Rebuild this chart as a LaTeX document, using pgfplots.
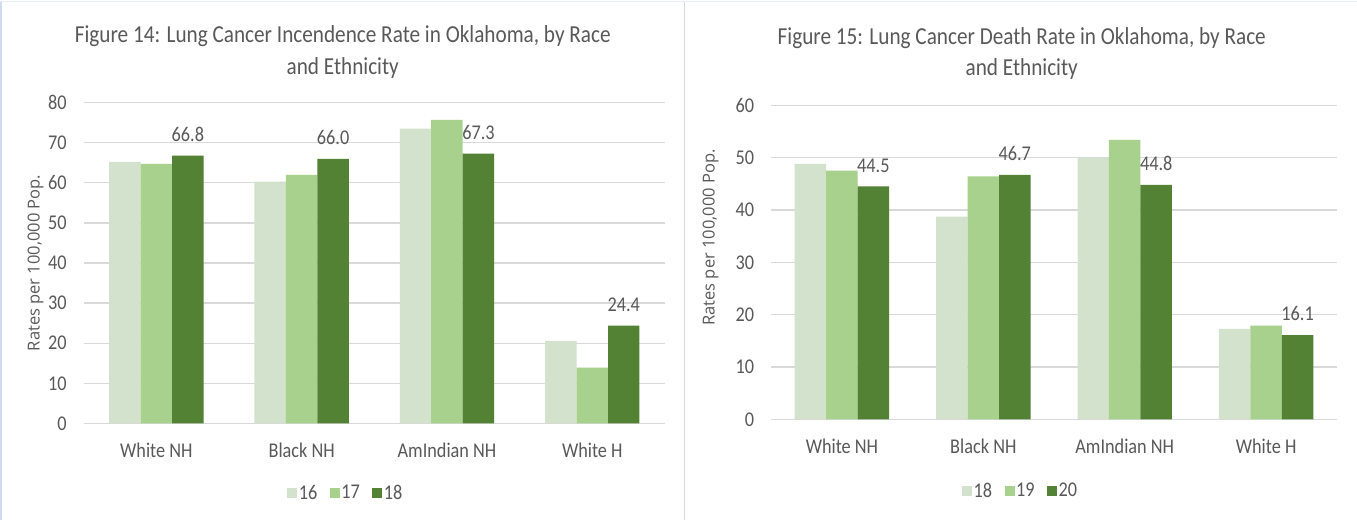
\documentclass[border=0pt]{standalone}
\usepackage{pgfplots}
\pgfplotsset{compat=1.18}
\usepackage{fontspec}
\setmainfont[FakeStretch=0.87]{Carlito}
\newfontfamily\labfont{Open Sans}
\definecolor{cA}{HTML}{D2E2CD}
\definecolor{cB}{HTML}{A8D18D}
\definecolor{cC}{HTML}{548235}
\definecolor{txt}{HTML}{595959}
\definecolor{gridc}{HTML}{D9D9D9}
\definecolor{border}{HTML}{D0DCEE}
\pgfplotsset{
  mybar/.style={
    scale only axis,
    ybar=0pt, bar width=31.5pt,
    xmin=-0.5, xmax=3.5,
    ymin=0,
    xtick={0,1,2,3},
    xticklabels={White NH,Black NH,AmIndian NH,White H},
    axis line style={draw=none},
    major tick length=0pt,
    ymajorgrids, grid style={gridc, line width=1.3pt},
    tick label style={font=\fontsize{21}{24}\selectfont, text=txt, inner sep=0pt},
    /pgf/number format/assume math mode=true,
    yticklabel style={xshift=-17pt},
    xticklabel style={yshift=-19pt},
    ylabel style={font=\labfont\fontsize{16.5}{19}\selectfont, text=txt, anchor=center},
    legend columns=-1,
    legend style={draw=none, fill=none, anchor=center, font=\fontsize{21}{24}\selectfont, text=txt,
      nodes={inner sep=1.5pt}},
    legend image code/.code={\path (0pt,0pt); \fill[##1] (11pt,-5pt) rectangle (21pt,5pt);},
  },
  lbl/.style={nodes near coords, nodes near coords style={font=\fontsize{21}{24}\selectfont, text=txt, inner sep=0pt, yshift=14pt},
    point meta=explicit, /pgf/number format/fixed, /pgf/number format/precision=1, /pgf/number format/fixed zerofill},
}
\begin{document}
\begin{tikzpicture}
\fill[white] (0pt,0pt) rectangle (1357pt,519pt);
\draw[border, line width=2pt] (1pt,0pt) -- (1pt,519pt);
\draw[border, line width=1.5pt] (684.5pt,0pt) -- (684.5pt,519pt);
\draw[border!50, line width=1pt] (0pt,518.5pt) -- (1357pt,518.5pt);
% titles
\node[text=txt, font=\fontsize{24.4}{28}\selectfont, anchor=base] at (342.5pt,477.3pt) {Figure 14: Lung Cancer Incendence Rate in Oklahoma, by Race};
\node[text=txt, font=\fontsize{24.4}{28}\selectfont, anchor=base] at (342.5pt,445.7pt) {and Ethnicity};
\node[text=txt, font=\fontsize{24.4}{28}\selectfont, anchor=base] at (1022pt,475.5pt) {Figure 15: Lung Cancer Death Rate in Oklahoma, by Race};
\node[text=txt, font=\fontsize{24.4}{28}\selectfont, anchor=base] at (1022pt,444pt) {and Ethnicity};
\begin{axis}[mybar, at={(83.3pt,96.3pt)}, anchor=south west, width=581.6pt, height=321pt,
  ymax=80, ytick={0,10,...,80},
  ylabel={Rates per 100,000 Pop.},
  ylabel style={at={(axis description cs:-0.083,0.5)}},
  legend style={at={(0.441,-0.216)}}]
\addplot[fill=cA, draw=none] coordinates {(0,65.2) (1,60.3) (2,73.5) (3,20.6)};
\addplot[fill=cB, draw=none] coordinates {(0,64.7) (1,62.0) (2,75.7) (3,13.9)};
\addplot[fill=cC, draw=none, lbl] coordinates {(0,66.8) [66.8] (1,66.0) [66.0] (2,67.3) [67.3] (3,24.4) [24.4]};
\legend{16,17,18}
\end{axis}
\begin{axis}[mybar, at={(771.3pt,100.3pt)}, anchor=south west, width=566pt, height=314.4pt,
  ymax=60, ytick={0,10,...,60},
  ylabel={Rates per 100,000 Pop.},
  ylabel style={at={(axis description cs:-0.107,0.579)}},
  legend style={at={(0.4306,-0.227)}}]
\addplot[fill=cA, draw=none] coordinates {(0,48.8) (1,38.7) (2,49.9) (3,17.3)};
\addplot[fill=cB, draw=none] coordinates {(0,47.5) (1,46.4) (2,53.4) (3,17.9)};
\addplot[fill=cC, draw=none, lbl] coordinates {(0,44.5) [44.5] (1,46.7) [46.7] (2,44.8) [44.8] (3,16.1) [16.1]};
\legend{18,19,20}
\end{axis}
\end{tikzpicture}
\end{document}
